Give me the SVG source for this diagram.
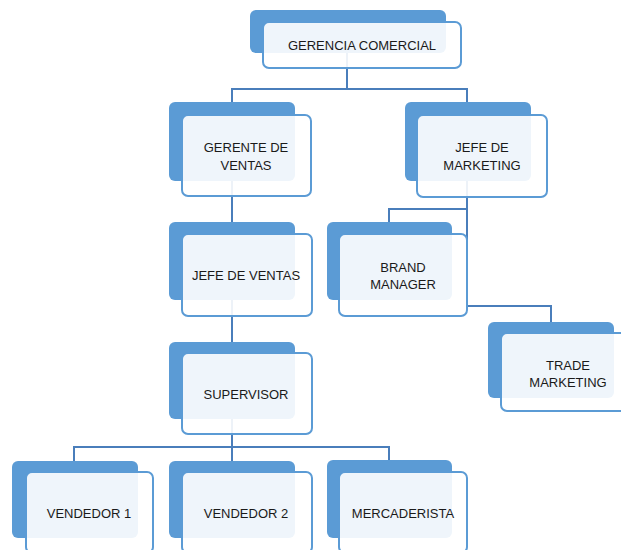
<svg xmlns="http://www.w3.org/2000/svg" width="621" height="550" viewBox="0 0 621 550">
<style>
.back{fill:#5b9bd5}
.front{fill:#ffffff;fill-opacity:0.9;stroke:#5b9bd5;stroke-width:2}
.lbl{font-family:"Liberation Sans",Arial,sans-serif;font-size:13px;fill:#1a1a1a;text-anchor:middle}
.conn{fill:none;stroke:#4a7ebb;stroke-width:2}
</style>
<rect width="621" height="550" fill="#ffffff"/>
<g id="connectors" class="conn">
<path d="M347,53 V89 M232,102 V89 H467 V102"/>
<path d="M232,181 V222"/>
<path d="M232,300 V342"/>
<path d="M232,419 V461 M74,461 V447 H389 V460"/>
<path d="M467,181 V306 H551 V322 M389,222 V209 H467"/>
</g>
<g id="gerencia-comercial">
<rect class="back" x="250" y="10" width="196" height="43" rx="6"/>
<rect class="front" x="263" y="22" width="198" height="46" rx="6"/>
<text class="lbl" x="362" y="50">GERENCIA COMERCIAL</text>
</g>
<g id="gerente-de-ventas">
<rect class="back" x="169" y="102" width="126" height="79" rx="6"/>
<rect class="front" x="182" y="115" width="129" height="81" rx="6"/>
<text class="lbl" x="246" y="152">GERENTE DE</text>
<text class="lbl" x="246" y="170">VENTAS</text>
</g>
<g id="jefe-de-marketing">
<rect class="back" x="405" y="102" width="126" height="79" rx="6"/>
<rect class="front" x="417" y="115" width="130" height="82" rx="6"/>
<text class="lbl" x="482" y="152">JEFE DE</text>
<text class="lbl" x="482" y="170">MARKETING</text>
</g>
<g id="jefe-de-ventas">
<rect class="back" x="169" y="222" width="126" height="78" rx="6"/>
<rect class="front" x="182" y="234" width="130" height="82" rx="6"/>
<text class="lbl" x="246" y="280">JEFE DE VENTAS</text>
</g>
<g id="brand-manager">
<rect class="back" x="327" y="222" width="125" height="78" rx="6"/>
<rect class="front" x="339" y="234" width="128" height="82" rx="6"/>
<text class="lbl" x="403" y="272">BRAND</text>
<text class="lbl" x="403" y="289">MANAGER</text>
</g>
<g id="trade-marketing">
<rect class="back" x="488" y="322" width="126" height="76" rx="6"/>
<rect class="front" x="501" y="333" width="130" height="78" rx="6"/>
<text class="lbl" x="568" y="370">TRADE</text>
<text class="lbl" x="568" y="387">MARKETING</text>
</g>
<g id="supervisor">
<rect class="back" x="169" y="342" width="126" height="77" rx="6"/>
<rect class="front" x="182" y="353" width="130" height="81" rx="6"/>
<text class="lbl" x="246" y="399">SUPERVISOR</text>
</g>
<g id="vendedor-1">
<rect class="back" x="12" y="461" width="126" height="77" rx="6"/>
<rect class="front" x="26" y="472" width="127" height="81" rx="6"/>
<text class="lbl" x="89" y="518">VENDEDOR 1</text>
</g>
<g id="vendedor-2">
<rect class="back" x="169" y="461" width="126" height="77" rx="6"/>
<rect class="front" x="182" y="472" width="130" height="81" rx="6"/>
<text class="lbl" x="246" y="518">VENDEDOR 2</text>
</g>
<g id="mercaderista">
<rect class="back" x="327" y="460" width="125" height="78" rx="6"/>
<rect class="front" x="339" y="472" width="128" height="81" rx="6"/>
<text class="lbl" x="403" y="518">MERCADERISTA</text>
</g>
</svg>
